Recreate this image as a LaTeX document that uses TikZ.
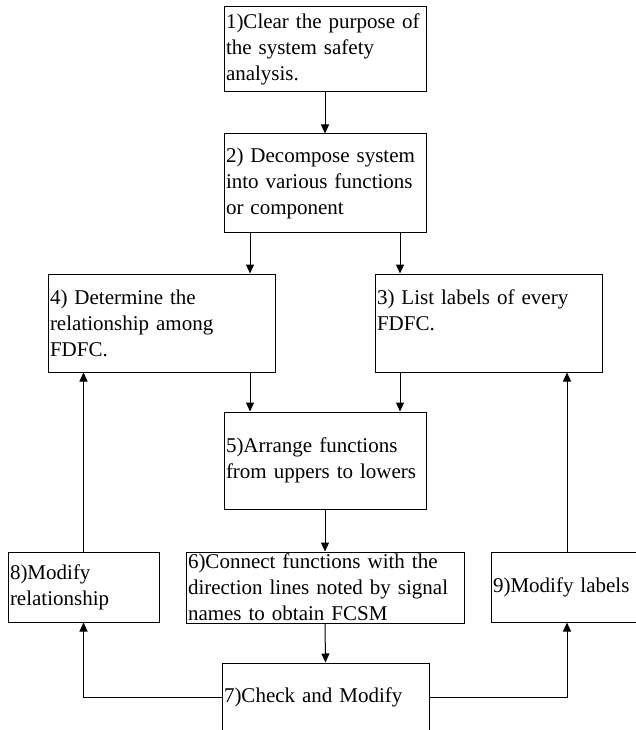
\documentclass[tikz,border=0pt]{standalone}
\usepackage{fontspec}
\setmainfont{Liberation Serif}
\usetikzlibrary{arrows.meta}

\begin{document}
\begin{tikzpicture}[
    x=1pt, y=-1pt,
    every node/.style={font=\fontsize{21}{26}\selectfont},
    stepbox/.style={draw, line width=1pt, rectangle, align=left, inner xsep=2pt, inner ysep=0pt},
    flow/.style={line width=1pt, -{Triangle[length=9pt, width=8pt]}}
  ]
  \useasboundingbox (0,0) rectangle (636,730);
  \clip (0,0) rectangle (636,730);

  % steps
  \node[stepbox, minimum width=202pt, minimum height=85pt, text width=198pt] (b1) at (325,49.5)
    {1)Clear the purpose of\\the system safety\\analysis.};
  \node[stepbox, minimum width=202pt, minimum height=98pt, text width=198pt] (b2) at (325,183)
    {2) Decompose system\\into various functions\\or component};
  \node[stepbox, minimum width=227pt, minimum height=98pt, text width=223pt] (b4) at (161.5,323)
    {4) Determine the\\relationship among\\FDFC.};
  \node[stepbox, minimum width=227pt, minimum height=98pt, text width=223pt] (b3) at (488.5,323)
    {3) List labels of every\\FDFC.\\\mbox{}};
  \node[stepbox, minimum width=202pt, minimum height=97pt, text width=198pt] (b5) at (325,460.5)
    {5)Arrange functions\\from uppers to lowers};
  \node[stepbox, minimum width=151pt, minimum height=70pt, text width=147pt] (b8) at (83.5,587)
    {8)Modify\\relationship};
  \node[stepbox, minimum width=278pt, minimum height=71pt, text width=274pt] (b6) at (325,587.5)
    {6)Connect functions with the\\direction lines noted by signal\\names to obtain FCSM};
  \node[stepbox, minimum width=152pt, minimum height=70pt, text width=148pt] (b9) at (567,587)
    {9)Modify labels};
  \node[stepbox, minimum width=207pt, minimum height=68pt, text width=203pt] (b7) at (325.5,697)
    {7)Check and Modify};

  % connectors
  \draw[flow] (b1.south) -- (b2.north);
  \draw[flow] ([xshift=-75pt]b2.south) -- ([xshift=-75pt]b2.south |- b4.north);
  \draw[flow] ([xshift=75pt]b2.south) -- ([xshift=75pt]b2.south |- b3.north);
  \draw[flow] ([xshift=-75pt]b5.north |- b4.south) -- ([xshift=-75pt]b5.north);
  \draw[flow] ([xshift=75pt]b5.north |- b3.south) -- ([xshift=75pt]b5.north);
  \draw[flow] (b5.south) -- (b6.north);
  \draw[flow] (b6.south) -- (b7.north);
  \draw[flow] (b7.west) -| (b8.south);
  \draw[flow] (b7.east) -| (b9.south);
  \draw[flow] (b8.north) -- (b8.north |- b4.south);
  \draw[flow] (b9.north) -- (b9.north |- b3.south);
\end{tikzpicture}
\end{document}
